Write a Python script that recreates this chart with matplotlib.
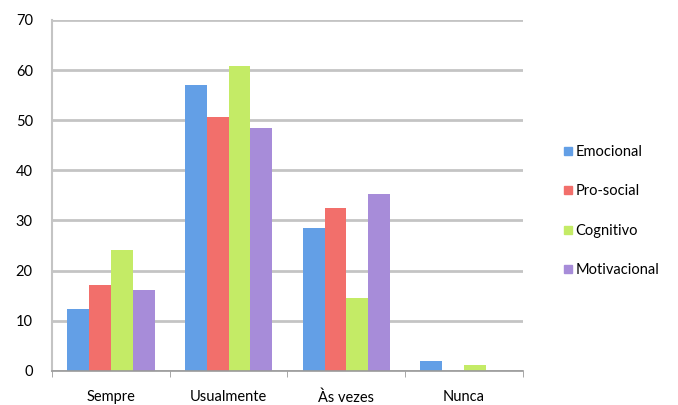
import matplotlib

matplotlib.use("Agg")
import matplotlib.pyplot as plt
import numpy as np
from matplotlib.lines import Line2D

categories = ["Sempre", "Usualmente", "Às vezes", "Nunca"]
series_names = ["Emocional", "Pro-social", "Cognitivo", "Motivacional"]
emocional = [12.4, 57.1, 28.5, 2.0]
pro_social = [17.2, 50.7, 32.5, 0.0]
cognitivo = [24.1, 60.7, 14.6, 1.2]
motivacional = [16.2, 48.5, 35.3, 0.0]

colors = ["#639fe6", "#f26f6b", "#c4eb66", "#a78cd9"]

plt.rcParams["font.family"] = ["Lato", "DejaVu Sans"]

fig = plt.figure(figsize=(6.78, 4.05), dpi=100)
ax = fig.add_axes([0.077, 0.084, 0.694, 0.867])

x = np.arange(len(categories))
width = 0.185
for i, (vals, c) in enumerate(zip([emocional, pro_social, cognitivo, motivacional], colors)):
    ax.bar(x + (i - 1.5) * width, vals, width, color=c, zorder=3, linewidth=0)

ax.set_xlim(-0.5, len(categories) - 0.5)
ax.set_ylim(0, 70)
ax.set_yticks(range(0, 71, 10))
ax.yaxis.grid(True, color="#c4c4c4", linewidth=2, zorder=0)
ax.set_axisbelow(True)

ax.set_xticks(x)
ax.set_xticklabels(categories, fontsize=10.5)
ax.set_xticks(np.arange(-0.5, len(categories), 1), minor=True)
ax.tick_params(axis="x", which="major", length=0, pad=14)
ax.tick_params(axis="x", which="minor", length=4, color="#999999")
ax.tick_params(axis="y", length=0, labelsize=10.5, pad=14)

for s in ["top", "right"]:
    ax.spines[s].set_visible(False)
ax.spines["left"].set_color("#c4c4c4")
ax.spines["left"].set_linewidth(1.5)
ax.spines["bottom"].set_color("#999999")
ax.spines["bottom"].set_linewidth(1.2)
ax.spines["bottom"].set_zorder(4)

handles = [Line2D([0], [0], marker="s", linestyle="", markersize=6,
                  markerfacecolor=c, markeredgecolor=c) for c in colors]
fig.legend(handles, series_names, loc="center left",
           bbox_to_anchor=(0.808, 0.479), frameon=False, fontsize=10.5,
           handletextpad=0.0, labelspacing=1.75, handlelength=1.0)

fig.savefig("out.png")
